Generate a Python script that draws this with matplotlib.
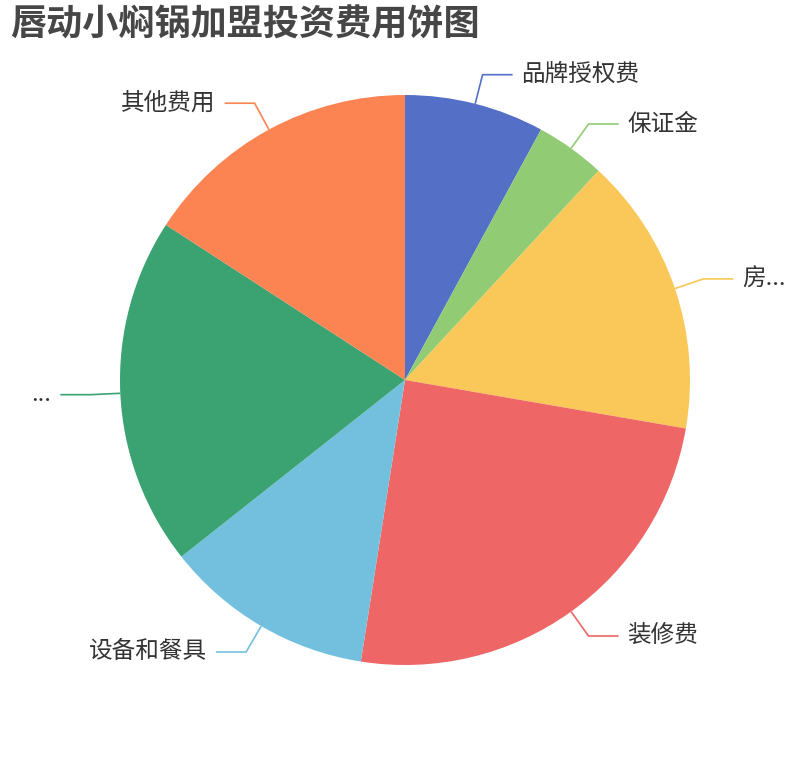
import numpy as np
import matplotlib.pyplot as plt

plt.rcParams['font.family'] = ['Noto Sans CJK SC', 'DejaVu Sans']

# slice data (clockwise from 12 o'clock)
names = ['品牌授权费', '保证金', '房...', '装修费', '设备和餐具', '...', '其他费用']
values = [8, 4, 16, 25, 12, 20, 16]
colors = ['#5470c6', '#91cc75', '#fac858', '#ee6666', '#73c0de', '#3ba272', '#fc8452']
title = '唇动小焖锅加盟投资费用饼图'

W, H = 810, 760
cx, cy, r = 405, 380, 285

fig = plt.figure(figsize=(W / 100, H / 100), dpi=100)
ax = fig.add_axes([0, 0, 1, 1])

wedges, _ = ax.pie(values, colors=colors, startangle=90, counterclock=False,
                   center=(cx, cy), radius=r, frame=True,
                   wedgeprops=dict(linewidth=0))
ax.set_xlim(0, W)
ax.set_ylim(0, H)
ax.axis('off')

# leader lines and labels
for w, name, col in zip(wedges, names, colors):
    mid = np.deg2rad((w.theta1 + w.theta2) / 2)
    x0, y0 = cx + r * np.cos(mid), cy + r * np.sin(mid)
    x1, y1 = cx + 315 * np.cos(mid), cy + 315 * np.sin(mid)
    side = 1 if x1 >= cx else -1
    x2 = x1 + side * 30
    ax.plot([x0, x1, x2], [y0, y1, y1], color=col, lw=1.2, solid_capstyle='butt')
    ax.text(x2 + side * 9, y1, name, fontsize=17, color='#333333',
            ha='left' if side > 0 else 'right', va='center')

fig.text(10 / W, 1 - 25 / H, title, fontsize=26, fontweight='bold',
         color='#464646', ha='left', va='center')

fig.savefig('out.png', dpi=100)
